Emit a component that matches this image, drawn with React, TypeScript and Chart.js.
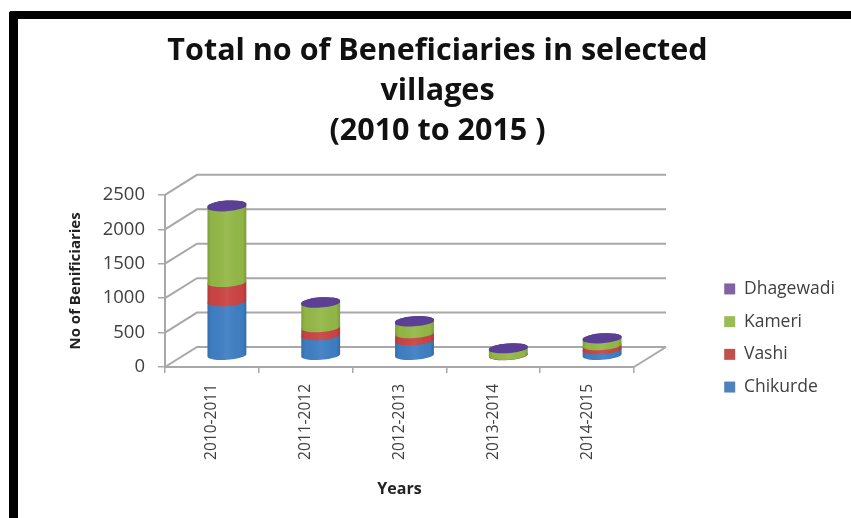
import React, { useEffect, useRef } from "react";
import { Chart, registerables } from "chart.js";

Chart.register(...registerables);

const categories = ["2010-2011", "2011-2012", "2012-2013", "2013-2014", "2014-2015"];
const chikurde = [790, 300, 225, 8, 94];
const vashi = [280, 115, 102, 5, 59];
const kameri = [1100, 355, 170, 95, 100];
const dhagewadi = [20, 15, 13, 8, 9];
const titleLines = ["Total no of Beneficiaries in selected", "villages", "(2010 to 2015 )"];

const DEPTH_X = 32;
const DEPTH_Y = -20;
const BAR_RY = 4.6;
const TILT = (-4 * Math.PI) / 180;
const GRID = "#a8a8a8";
const TEXT = "#404040";
const FONT = "'Open Sans', sans-serif";

const wall3d = {
  id: "wall3d",
  beforeLayout(chart: any) {
    const legend = chart.legend;
    if (legend && !legend.__wrapped) {
      const fit = legend.fit;
      legend.fit = function () {
        fit.call(this);
        this.width = 217;
      };
      legend.__wrapped = true;
    }
  },
  afterLayout(chart: any) {
    const l = chart.legend;
    l.left = 709;
    l.right = 851;
    l.top = 265;
    l.bottom = 518;
    const t = chart.titleBlock;
    t.left = 24;
    t.right = 851;
  },
  beforeDatasetsDraw(chart: any) {
    const { ctx, scales, chartArea } = chart;
    const y = scales.y;
    ctx.save();
    ctx.strokeStyle = GRID;
    ctx.lineWidth = 2;
    y.ticks.forEach((t: any) => {
      const py = y.getPixelForValue(t.value);
      ctx.beginPath();
      ctx.moveTo(chartArea.left, py);
      ctx.lineTo(chartArea.left + DEPTH_X, py + DEPTH_Y);
      ctx.lineTo(chartArea.right + DEPTH_X, py + DEPTH_Y);
      ctx.stroke();
    });
    const y0 = y.getPixelForValue(0);
    ctx.beginPath();
    ctx.moveTo(chartArea.right, y0);
    ctx.lineTo(chartArea.right + DEPTH_X, y0 + DEPTH_Y);
    ctx.stroke();
    ctx.restore();
  },
  beforeDatasetDraw() {
    return false;
  },
  afterDatasetsDraw(chart: any) {
    const { ctx, data } = chart;
    const n = data.datasets.length;
    const ox = DEPTH_X / 2 - 1;
    const oy = DEPTH_Y / 2 - 1;
    categories.forEach((_, i) => {
      let last: any = null;
      for (let d = 0; d < n; d++) {
        const bar: any = chart.getDatasetMeta(d).data[i];
        const x = bar.x + ox;
        const r = bar.width / 2;
        ctx.save();
        ctx.beginPath();
        ctx.ellipse(x, bar.base + oy, r, BAR_RY, TILT, 0, Math.PI, false);
        ctx.ellipse(x, bar.y + oy, r, BAR_RY, TILT, Math.PI, 2 * Math.PI, false);
        ctx.closePath();
        ctx.fillStyle = data.datasets[d].sideColor;
        ctx.fill();
        const g = ctx.createLinearGradient(x - r, 0, x + r, 0);
        g.addColorStop(0, "rgba(0,0,0,0.14)");
        g.addColorStop(0.1, "rgba(0,0,0,0.02)");
        g.addColorStop(0.5, "rgba(255,255,255,0.06)");
        g.addColorStop(0.9, "rgba(0,0,0,0.02)");
        g.addColorStop(1, "rgba(0,0,0,0.16)");
        ctx.fillStyle = g;
        ctx.fill();
        ctx.restore();
        last = bar;
      }
      const x = last.x + ox;
      ctx.save();
      ctx.beginPath();
      ctx.ellipse(x, last.y + oy, last.width / 2, BAR_RY, TILT, 0, 2 * Math.PI);
      ctx.fillStyle = "#5b3f94";
      ctx.fill();
      ctx.restore();
    });
  },
};

export default function App() {
  const ref = useRef<HTMLCanvasElement>(null);
  useEffect(() => {
    if (!ref.current) return;
    const chart = new Chart(ref.current, {
      type: "bar",
      plugins: [wall3d as any],
      data: {
        labels: categories,
        datasets: [
          { label: "Chikurde", data: chikurde, backgroundColor: "#4f81bd", sideColor: "#3f7fc4" },
          { label: "Vashi", data: vashi, backgroundColor: "#c0504d", sideColor: "#cb4444" },
          { label: "Kameri", data: kameri, backgroundColor: "#9bbb59", sideColor: "#94b847" },
          { label: "Dhagewadi", data: dhagewadi, backgroundColor: "#8064a2", sideColor: "#5b3f94" },
        ] as any,
      },
      options: {
        responsive: false,
        animation: false,
        events: [],
        layout: { padding: 0 },
        datasets: { bar: { categoryPercentage: 1, barPercentage: 0.415 } },
        plugins: {
          tooltip: { enabled: false },
          title: {
            display: true,
            text: titleLines,
            color: "#111111",
            font: { family: FONT, size: 30.5, weight: "bold", lineHeight: 1.31 },
            padding: { top: 31, bottom: 44 },
          },
          legend: {
            display: true,
            position: "right",
            align: "start",
            reverse: true,
            labels: {
              boxWidth: 11,
              boxHeight: 11,
              padding: 15.2,
              color: TEXT,
              font: { family: FONT, size: 17.5 },
            },
          },
        },
        scales: {
          x: {
            stacked: true,
            afterFit: (s: any) => {
              s.height = 151;
            },
            grid: { display: true, drawOnChartArea: false, drawTicks: true, tickLength: 6, color: GRID, offset: true, lineWidth: 1.5 },
            border: { color: GRID, width: 2 },
            ticks: {
              autoSkip: false,
              minRotation: 90,
              maxRotation: 90,
              padding: 11,
              color: TEXT,
              font: { family: FONT, size: 15.5 },
            },
            title: {
              display: true,
              text: "Years",
              color: "#222222",
              font: { family: FONT, size: 16, weight: "bold" },
              padding: { top: 0, bottom: 19 },
            },
          },
          y: {
            stacked: true,
            min: 0,
            max: 2500,
            afterFit: (s: any) => {
              s.width = 165;
            },
            grid: { display: true, drawOnChartArea: false, drawTicks: true, tickLength: 7, color: GRID, lineWidth: 1.5 },
            border: { color: GRID, width: 2 },
            ticks: {
              stepSize: 500,
              padding: 13,
              color: TEXT,
              font: { family: FONT, size: 18.5 },
              callback: (v: any) => String(v),
            },
            title: {
              display: true,
              text: "No of Benificiaries",
              color: "#222222",
              font: { family: FONT, size: 15, weight: "bold" },
              padding: { top: 67, bottom: 0 },
            },
          },
        },
      },
    } as any);
    return () => chart.destroy();
  }, []);
  return (
    <div style={{ position: "fixed", left: 0, top: 0, width: 851, height: 518, overflow: "hidden", background: "#fff" }}>
      <canvas ref={ref} width={851} height={518} style={{ position: "absolute", left: 0, top: 0, width: 851, height: 518, filter: "blur(0.5px)" }} />
      <div
        style={{
          position: "absolute",
          left: 9,
          top: 11,
          width: 1000,
          height: 800,
          borderTop: "8px solid #000",
          borderLeft: "9px solid #000",
          borderTopLeftRadius: 3,
        }}
      />
    </div>
  );
}
